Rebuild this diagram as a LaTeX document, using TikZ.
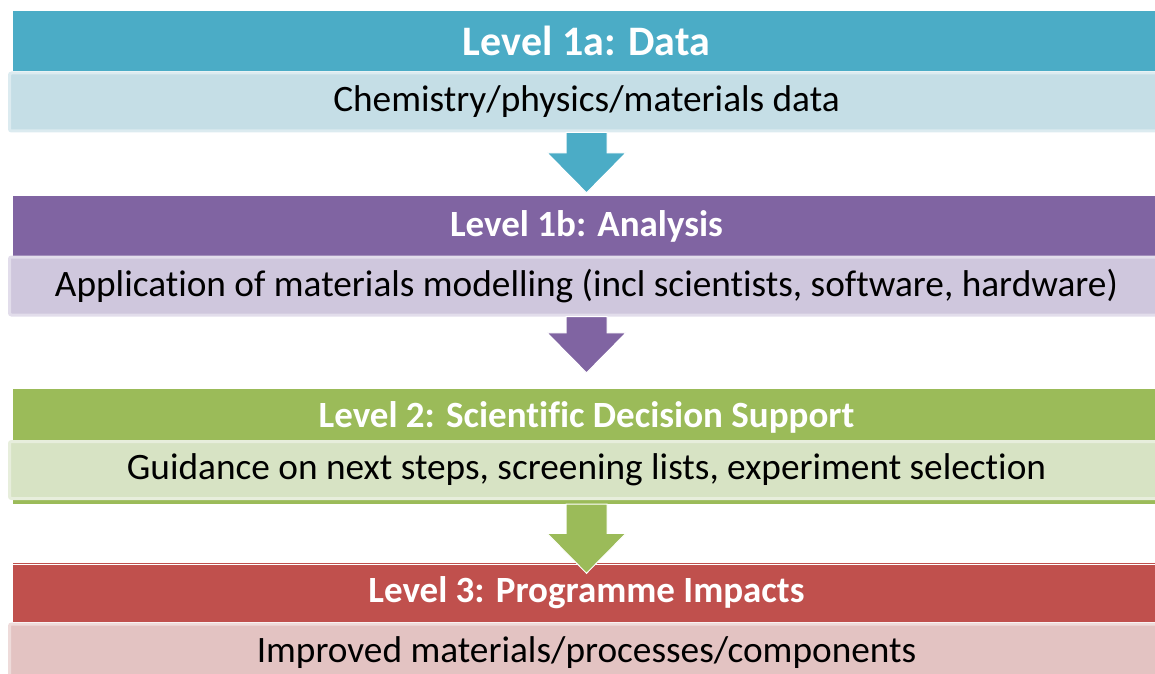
\documentclass[tikz,border=0pt]{standalone}
\usepackage{fontspec}
\setmainfont[Ligatures=CommonOff]{Carlito}
\usetikzlibrary{calc}
\definecolor{cteal}{HTML}{4BACC6}
\definecolor{lteal}{HTML}{C5DEE6}
\definecolor{cpurple}{HTML}{8064A2}
\definecolor{lpurple}{HTML}{CFC7DD}
\definecolor{cgreen}{HTML}{9BBB59}
\definecolor{lgreen}{HTML}{D7E3C4}
\definecolor{cred}{HTML}{C0504D}
\definecolor{lred}{HTML}{E3C3C2}
\newcommand\blockarrow[3]{%
  \path[fill=#1, draw=white, line width=1pt] let \p1=(#2), \p2=(#3) in
    (\x1-20.5pt,\y1) -- (\x1-20.5pt,\y2+40pt) -- (\x1-39.5pt,\y2+40pt) --
    (\x1,\y2) -- (\x1+39.5pt,\y2+40pt) -- (\x1+20.5pt,\y2+40pt) --
    (\x1+20.5pt,\y1) -- cycle;}
\tikzset{
  header/.style={fill=#1, minimum width=1147pt, inner sep=0pt, text=white,
    font=\fontsize{37}{42}\selectfont\bfseries},
  body/.style={fill=#1, draw=#1!60!white, line width=3pt, rounded corners=2pt,
    minimum width=1154pt, inner sep=0pt, text=black,
    font=\fontsize{37.3}{42}\selectfont},
}
\begin{document}
\begin{tikzpicture}[x=1pt,y=1pt]
\useasboundingbox (0,0) rectangle (1155,673);
\clip (0,0) rectangle (1155,673);
% Block 1
\node[header=cteal, minimum height=60pt, font=\fontsize{42}{46}\selectfont\bfseries] (h1) at (586.5,632) {Level 1a: Data};
\node[body=lteal, minimum height=58pt] (b1) at (586.5,571) {Chemistry/physics/materials data};
% Block 2
\node[header=cpurple, minimum height=60pt] (h2) at (586.5,447) {Level 1b: Analysis};
\node[body=lpurple, minimum height=58pt] (b2) at (586.5,387) {Application of materials modelling (incl scientists, software, hardware)};
% Block 3
\node[header=cgreen, minimum height=56pt] (h3) at (586.5,256) {Level 2: Scientific Decision Support};
\fill[cgreen] (h3.south west) rectangle ([yshift=-59pt]h3.south east);
\coordinate (s3) at ([yshift=-59pt]h3.south);
\node[body=lgreen, minimum height=57pt] (b3) at (586.5,203) {Guidance on next steps, screening lists, experiment selection};
% Block 4
\node[header=cred, minimum height=57pt] (h4) at (586.5,80) {Level 3: Programme Impacts};
\fill[cred] (h4.north west) rectangle ([yshift=1.5pt]h4.north east);
\node[body=lred, minimum height=58pt] (b4) at (586.5,20) {Improved materials/processes/components};
% Arrows
\blockarrow{cteal}{b1.south}{[yshift=3pt]h2.north}
\blockarrow{cpurple}{b2.south}{[yshift=16pt]h3.north}
\blockarrow{cgreen}{s3}{[yshift=-9pt]h4.north}
\end{tikzpicture}
\end{document}
